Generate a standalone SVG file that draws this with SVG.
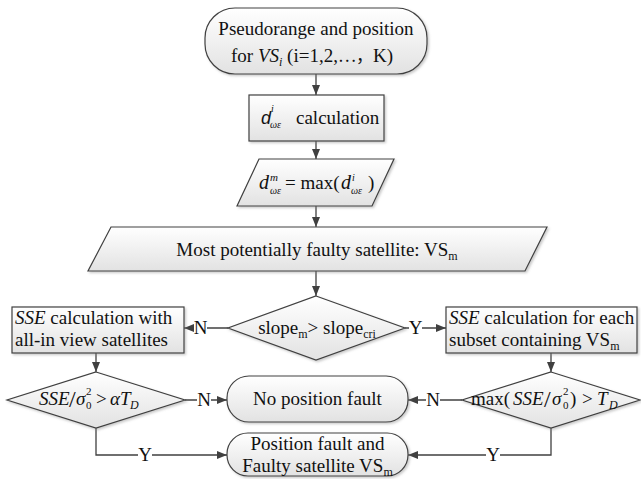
<svg xmlns="http://www.w3.org/2000/svg" width="641" height="479" viewBox="0 0 641 479">
<style>
.shape{fill:url(#g);stroke:#404040;stroke-width:1.2;filter:url(#sh)}
.t{font-family:'Liberation Serif','Times New Roman',serif;font-size:19px;fill:#111}
.i{font-style:italic}
.s10{font-size:10px}
.s11{font-size:11px}
.s12{font-size:12px}
.s20{font-size:20px}
.s24{font-size:24px}
.cjk{font-family:'Noto Sans CJK SC',sans-serif;font-size:17px}
.c{stroke:#404040;stroke-width:1.3;fill:none;marker-end:url(#ah)}
.lb{fill:#fff}
</style>
<defs>
<linearGradient id="g" x1="0" y1="0" x2="0" y2="1">
<stop offset="0" stop-color="#ffffff"/>
<stop offset="1" stop-color="#e2e2e2"/>
</linearGradient>
<filter id="sh" x="-10%" y="-10%" width="120%" height="130%">
<feDropShadow dx="1.5" dy="1.5" stdDeviation="0.8" flood-color="#888" flood-opacity="0.45"/>
</filter>
<marker id="ah" markerUnits="userSpaceOnUse" markerWidth="10" markerHeight="8" refX="10" refY="4" orient="auto">
<path d="M0,0 L10,4 L0,8 z" fill="#404040"/>
</marker>
</defs>

<g id="connectors">
<line class="c" x1="316" y1="74" x2="316" y2="95"/>
<line class="c" x1="316" y1="141" x2="316" y2="159"/>
<line class="c" x1="316" y1="206" x2="316" y2="227"/>
<line class="c" x1="316" y1="271" x2="316" y2="296"/>
<line class="c" x1="228" y1="328" x2="184" y2="328"/>
<line class="c" x1="405" y1="328" x2="446" y2="328"/>
<line class="c" x1="96" y1="353" x2="96" y2="372"/>
<line class="c" x1="551" y1="353" x2="551" y2="372"/>
<line class="c" x1="185" y1="400" x2="227" y2="400"/>
<line class="c" x1="462" y1="400" x2="408" y2="400"/>
<polyline class="c" points="96,428 96,455 227,455"/>
<polyline class="c" points="551,428 551,455 408,455"/>
<rect class="lb" x="194" y="318" width="13" height="20"/>
<text class="t" x="200.5" y="334" text-anchor="middle">N</text>
<rect class="lb" x="409" y="318" width="13" height="20"/>
<text class="t" x="415.5" y="334" text-anchor="middle">Y</text>
<rect class="lb" x="197" y="390" width="14" height="20"/>
<text class="t" x="204" y="406" text-anchor="middle">N</text>
<rect class="lb" x="426" y="390" width="14" height="20"/>
<text class="t" x="433" y="406" text-anchor="middle">N</text>
<rect class="lb" x="138" y="445" width="14" height="20"/>
<text class="t" x="145" y="461" text-anchor="middle">Y</text>
<rect class="lb" x="486" y="445" width="14" height="20"/>
<text class="t" x="493" y="461" text-anchor="middle">Y</text>
</g>

<g id="start">
<rect class="shape" x="205" y="8" width="222" height="66" rx="30" ry="30"/>
<text class="t" x="316" y="35" text-anchor="middle">Pseudorange and position</text>
<text class="t" x="312" y="62" text-anchor="middle">for <tspan class="i">VS</tspan><tspan class="i s12" dy="4">i</tspan><tspan dy="-4"> (i=1,2,</tspan><tspan class="cjk">⋯，</tspan><tspan>K)</tspan></text>
</g>

<g id="dcalc">
<rect class="shape" x="249" y="95" width="135" height="46"/>
<text x="261" y="124" font-family="Liberation Sans, sans-serif" font-style="italic" font-size="18" fill="#111">d</text>
<text class="t i s10" x="271" y="112">i</text>
<text class="t i s10" x="270" y="128">ωε</text>
<text class="t" x="296" y="124">calculation</text>
</g>

<g id="dmax">
<polygon class="shape" points="259,159 394,159 372,206 237,206"/>
<text class="t i s20" x="259" y="189">d</text>
<text class="t i s11" x="270" y="181">m</text>
<text class="t i s10" x="270" y="194">ωε</text>
<text class="t" x="285" y="189">= max(</text>
<text class="t i s20" x="341" y="189">d</text>
<text class="t i s10" x="352" y="181">i</text>
<text class="t i s10" x="351" y="194">ωε</text>
<text class="t" x="368" y="189">)</text>
</g>

<g id="faulty">
<polygon class="shape" points="111,227 547,227 525,271 88,271"/>
<text class="t" x="317" y="256" text-anchor="middle">Most potentially faulty satellite: VS<tspan class="s12" dy="4">m</tspan></text>
</g>

<g id="slope">
<polygon class="shape" points="316,296 405,328 316,360 228,328"/>
<text class="t" x="317" y="334" text-anchor="middle">slope<tspan class="s12" dy="4">m</tspan><tspan dy="-4">&gt; slope</tspan><tspan class="s12" dy="4">cri</tspan></text>
</g>

<g id="sse-all">
<rect class="shape" x="12" y="307" width="172" height="46"/>
<text class="t" x="15" y="324"><tspan class="i">SSE</tspan> calculation with</text>
<text class="t" x="15" y="346">all-in view satellites</text>
</g>

<g id="sse-subset">
<rect class="shape" x="446" y="307" width="191" height="46"/>
<text class="t" x="449" y="324"><tspan class="i">SSE</tspan> calculation for each</text>
<text class="t" x="449" y="346">subset containing VS<tspan class="s12" dy="4">m</tspan></text>
</g>

<g id="test-all">
<polygon class="shape" points="96,372 185,400 96,428 7,400"/>
<text class="t i" x="39" y="405">SSE</text>
<text class="t s24" x="69" y="407">/</text>
<text class="t i" x="76" y="405">σ</text>
<text class="t s11" x="86" y="395">2</text>
<text class="t s11" x="86" y="409">0</text>
<text class="t" x="96" y="405">&gt;</text>
<text class="t i" x="110" y="405">αT</text>
<text class="t i s12" x="130" y="409">D</text>
</g>

<g id="test-subset">
<polygon class="shape" points="551,372 640,400 551,428 462,400"/>
<text class="t" x="471" y="405">max(</text>
<text class="t i" x="513" y="405">SSE</text>
<text class="t s24" x="544" y="407">/</text>
<text class="t i" x="552" y="405">σ</text>
<text class="t s11" x="563" y="395">2</text>
<text class="t s11" x="563" y="409">0</text>
<text class="t" x="570" y="405">)</text>
<text class="t" x="582" y="405">&gt;</text>
<text class="t i" x="597" y="405">T</text>
<text class="t i s12" x="609" y="409">D</text>
</g>

<g id="no-fault">
<rect class="shape" x="227" y="376" width="181" height="46" rx="22" ry="22"/>
<text class="t" x="317.5" y="405" text-anchor="middle">No position fault</text>
</g>

<g id="fault">
<rect class="shape" x="227" y="433" width="181" height="43" rx="21" ry="21"/>
<text class="t" x="317.5" y="450" text-anchor="middle">Position fault and</text>
<text class="t" x="317.5" y="472" text-anchor="middle">Faulty satellite VS<tspan class="s12" dy="4">m</tspan></text>
</g>
</svg>
